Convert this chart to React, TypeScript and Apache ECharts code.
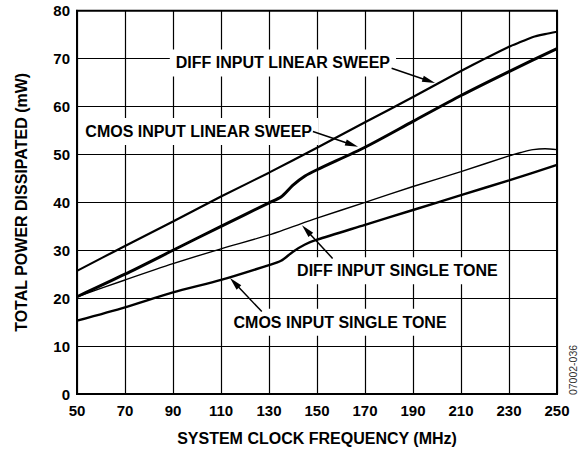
import React, { useEffect, useRef } from "react";
import * as echarts from "echarts";

// X axis (MHz) and Y axis (mW) ranges
const xMin = 50;
const xMax = 250;
const xStep = 20;
const yMin = 0;
const yMax = 80;
const yStep = 10;

// Series data
const diffLinearX = [50, 70, 90, 110, 130, 150, 170, 190, 210, 220, 230, 235, 240, 245, 250];
const diffLinearY = [25.7, 30.9, 36.0, 41.2, 46.2, 51.4, 56.7, 62.0, 67.4, 70.0, 72.5, 73.5, 74.5, 75.1, 75.6];

const cmosLinearX = [50, 70, 90, 110, 130, 135, 140, 145, 150, 170, 190, 210, 230, 250];
const cmosLinearY = [20.3, 25.0, 30.0, 35.0, 39.9, 41.1, 43.6, 45.5, 46.8, 51.5, 56.9, 62.3, 67.3, 72.1];

const diffToneX = [50, 70, 90, 110, 130, 150, 170, 190, 210, 230, 235, 240, 245, 250];
const diffToneY = [20.3, 23.8, 27.2, 30.3, 33.2, 36.7, 40.0, 43.3, 46.4, 49.7, 50.4, 51.0, 51.2, 51.0];

const cmosToneX = [50, 70, 90, 110, 130, 135, 140, 145, 150, 170, 190, 210, 230, 250];
const cmosToneY = [15.3, 18.1, 21.2, 23.8, 26.9, 27.8, 29.7, 31.2, 32.2, 35.3, 38.4, 41.5, 44.6, 47.8];

// Annotations (data coordinates)
const labelTexts = [
  "DIFF INPUT LINEAR SWEEP",
  "CMOS INPUT LINEAR SWEEP",
  "DIFF INPUT SINGLE TONE",
  "CMOS INPUT SINGLE TONE",
];
const labelX = [135.8, 100.7, 183.5, 159.6];
const labelY = [69.1, 54.8, 25.7, 15.0];
const arrowFromX = [181.1, 148.3, 156.5, 127.0];
const arrowFromY = [68.0, 54.8, 28.3, 17.2];
const arrowToX = [199.2, 167.1, 143.75, 113.75];
const arrowToY = [64.9, 51.6, 35.2, 24.2];

const FONT = '"Liberation Sans", Arial, Helvetica, sans-serif';

function pairs(xs: number[], ys: number[]) {
  return xs.map((x, i) => [x, ys[i]]);
}

export default function App() {
  const ref = useRef<HTMLDivElement>(null);
  useEffect(() => {
    document.body.style.margin = "0";
    if (!ref.current) return;
    const chart = echarts.init(ref.current, null, { renderer: "svg" });
    const lineSeries = (name: string, data: number[][], width: number) => ({
      name,
      type: "line",
      data,
      showSymbol: false,
      symbol: "none",
      smooth: 0.25,
      lineStyle: { color: "#000", width },
      z: 3,
    });
    chart.setOption({
      animation: false,
      backgroundColor: "#fff",
      grid: {
        left: 77,
        right: 27,
        top: 10.7,
        bottom: 60,
        show: true,
        borderColor: "#000",
        borderWidth: 2,
      },
      xAxis: {
        type: "value",
        min: xMin,
        max: xMax,
        interval: xStep,
        name: "SYSTEM CLOCK FREQUENCY (MHz)",
        nameLocation: "middle",
        nameGap: 36,
        nameTextStyle: { color: "#000", fontWeight: "bold", fontSize: 16, fontFamily: FONT },
        axisLine: { show: true, lineStyle: { color: "#000", width: 2 } },
        axisTick: { show: false },
        axisLabel: { color: "#000", fontWeight: "bold", fontSize: 15, fontFamily: FONT, margin: 9 },
        splitLine: { show: true, lineStyle: { color: "#000", width: 1.2 } },
      },
      yAxis: {
        type: "value",
        min: yMin,
        max: yMax,
        interval: yStep,
        name: "TOTAL POWER DISSIPATED (mW)",
        nameLocation: "middle",
        nameGap: 48,
        nameTextStyle: { color: "#000", fontWeight: "bold", fontSize: 16, fontFamily: FONT },
        axisLine: { show: true, lineStyle: { color: "#000", width: 2 } },
        axisTick: { show: false },
        axisLabel: { color: "#000", fontWeight: "bold", fontSize: 15, fontFamily: FONT, margin: 7 },
        splitLine: { show: true, lineStyle: { color: "#000", width: 1.2 } },
      },
      series: [
        lineSeries("DIFF INPUT LINEAR SWEEP", pairs(diffLinearX, diffLinearY), 2.2),
        lineSeries("CMOS INPUT LINEAR SWEEP", pairs(cmosLinearX, cmosLinearY), 3),
        lineSeries("DIFF INPUT SINGLE TONE", pairs(diffToneX, diffToneY), 1.4),
        lineSeries("CMOS INPUT SINGLE TONE", pairs(cmosToneX, cmosToneY), 2.4),
      ],
    });

    const graphics: any[] = [];
    labelTexts.forEach((t, i) => {
      const p = chart.convertToPixel({ gridIndex: 0 }, [labelX[i], labelY[i]]) as number[];
      graphics.push({
        type: "text",
        x: p[0],
        y: p[1],
        z: 10,
        style: {
          text: t,
          font: `bold 16px ${FONT}`,
          fill: "#000",
          align: "center",
          verticalAlign: "middle",
          backgroundColor: "#fff",
          padding: [6, 6, 5, 6],
        },
      });
    });
    labelTexts.forEach((_, i) => {
      const a = chart.convertToPixel({ gridIndex: 0 }, [arrowFromX[i], arrowFromY[i]]) as number[];
      const b = chart.convertToPixel({ gridIndex: 0 }, [arrowToX[i], arrowToY[i]]) as number[];
      const dx = b[0] - a[0];
      const dy = b[1] - a[1];
      const len = Math.sqrt(dx * dx + dy * dy);
      const ux = dx / len;
      const uy = dy / len;
      const L = 13;
      const W = 3.2;
      const bx = b[0] - ux * L;
      const by = b[1] - uy * L;
      graphics.push({
        type: "line",
        z: 11,
        shape: { x1: a[0], y1: a[1], x2: bx + ux * 2, y2: by + uy * 2 },
        style: { stroke: "#000", lineWidth: 1.5 },
      });
      graphics.push({
        type: "polygon",
        z: 11,
        shape: {
          points: [
            [b[0], b[1]],
            [bx - uy * W, by + ux * W],
            [bx + uy * W, by - ux * W],
          ],
        },
        style: { fill: "#000" },
      });
    });
    graphics.push({
      type: "text",
      x: 573,
      y: 370,
      rotation: Math.PI / 2,
      z: 10,
      style: {
        text: "07002-036",
        font: `10.5px ${FONT}`,
        fill: "#333",
        align: "center",
        verticalAlign: "middle",
      },
    });
    chart.setOption({ graphic: graphics });

    return () => chart.dispose();
  }, []);
  return <div ref={ref} style={{ width: 584, height: 454 }} />;
}
